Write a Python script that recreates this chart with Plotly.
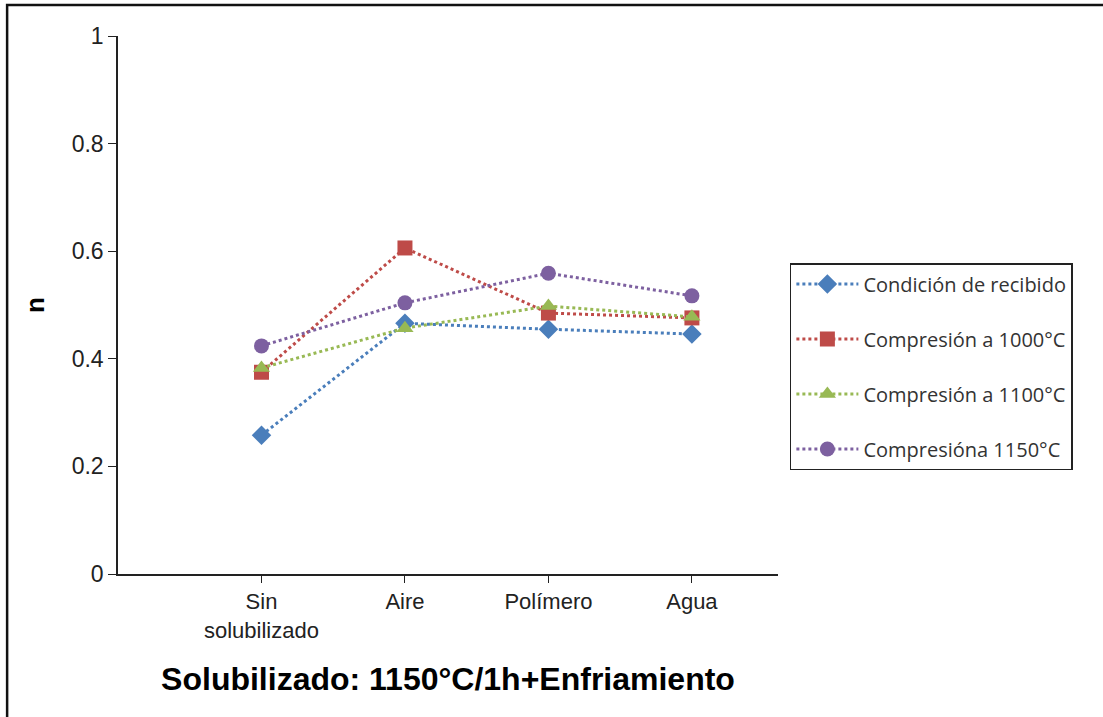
import plotly.graph_objects as go

categories = ["Sin<br>solubilizado", "Aire", "Polímero", "Agua"]
series_names = ["Condición de recibido", "Compresión a 1000°C",
                "Compresión a 1100°C", "Compresióna 1150°C"]
recibido = [0.258, 0.466, 0.455, 0.446]
comp_1000 = [0.375, 0.606, 0.485, 0.476]
comp_1100 = [0.383, 0.457, 0.498, 0.478]
comp_1150 = [0.424, 0.504, 0.559, 0.517]

colors = ["#4A7EBB", "#BE4B48", "#98B954", "#7D60A0"]
symbols = ["diamond", "square", "triangle-up", "circle"]
sizes = [15, 15, 15, 15]

fig = go.Figure()
for i, (name, vals) in enumerate(zip(series_names, [recibido, comp_1000, comp_1100, comp_1150])):
    fig.add_trace(go.Scatter(
        x=list(range(len(categories))),
        y=vals,
        name=name,
        legendgroup=str(i),
        mode="lines+markers",
        line=dict(color=colors[i], width=3, dash="dot"),
        marker=dict(color=colors[i], symbol=symbols[i], size=sizes[i]),
    ))

fig.update_layout(
    width=1103, height=717,
    margin=dict(l=118, r=325, t=36, b=143),
    paper_bgcolor="white",
    plot_bgcolor="white",
    font=dict(family="Liberation Sans, Arial", color="#222"),
    showlegend=True,
    legend=dict(
        x=1.018, y=0.578, xanchor="left", yanchor="top",
        bordercolor="#222", borderwidth=1.5,
        font=dict(family="Open Sans", size=20, color="#333"),
        itemwidth=62,
        tracegroupgap=26,
    ),
    xaxis=dict(
        range=[-1.0, 3.6],
        tickmode="array",
        tickvals=list(range(len(categories))),
        ticktext=categories,
        ticks="outside", ticklen=7, tickcolor="#222",
        showline=True, linecolor="#222", linewidth=1.5,
        showgrid=False, zeroline=False,
        tickfont=dict(size=22, color="#222"),
        title=dict(text="<b>Solubilizado: 1150°C/1h+Enfriamiento</b>",
                   font=dict(size=32, color="#000"), standoff=26),
    ),
    yaxis=dict(
        range=[0, 1],
        tickvals=[0, 0.2, 0.4, 0.6, 0.8, 1],
        ticktext=["0", "0.2", "0.4", "0.6", "0.8", "1"],
        ticks="outside", ticklen=8, tickcolor="#222",
        showline=True, linecolor="#222", linewidth=1.5,
        showgrid=False, zeroline=False,
        tickfont=dict(size=23, color="#222"),
        title=dict(text="<b>n</b>", font=dict(size=26, color="#000"), standoff=20),
    ),
    shapes=[dict(
        type="rect", xref="paper", yref="paper",
        x0=-0.168, x1=1.6, y0=-0.4, y1=1.0576,
        line=dict(color="#111", width=2.5),
    )],
)

fig.write_html("out.html", config={"displayModeBar": False},
               post_script="document.body.style.margin='0';")
